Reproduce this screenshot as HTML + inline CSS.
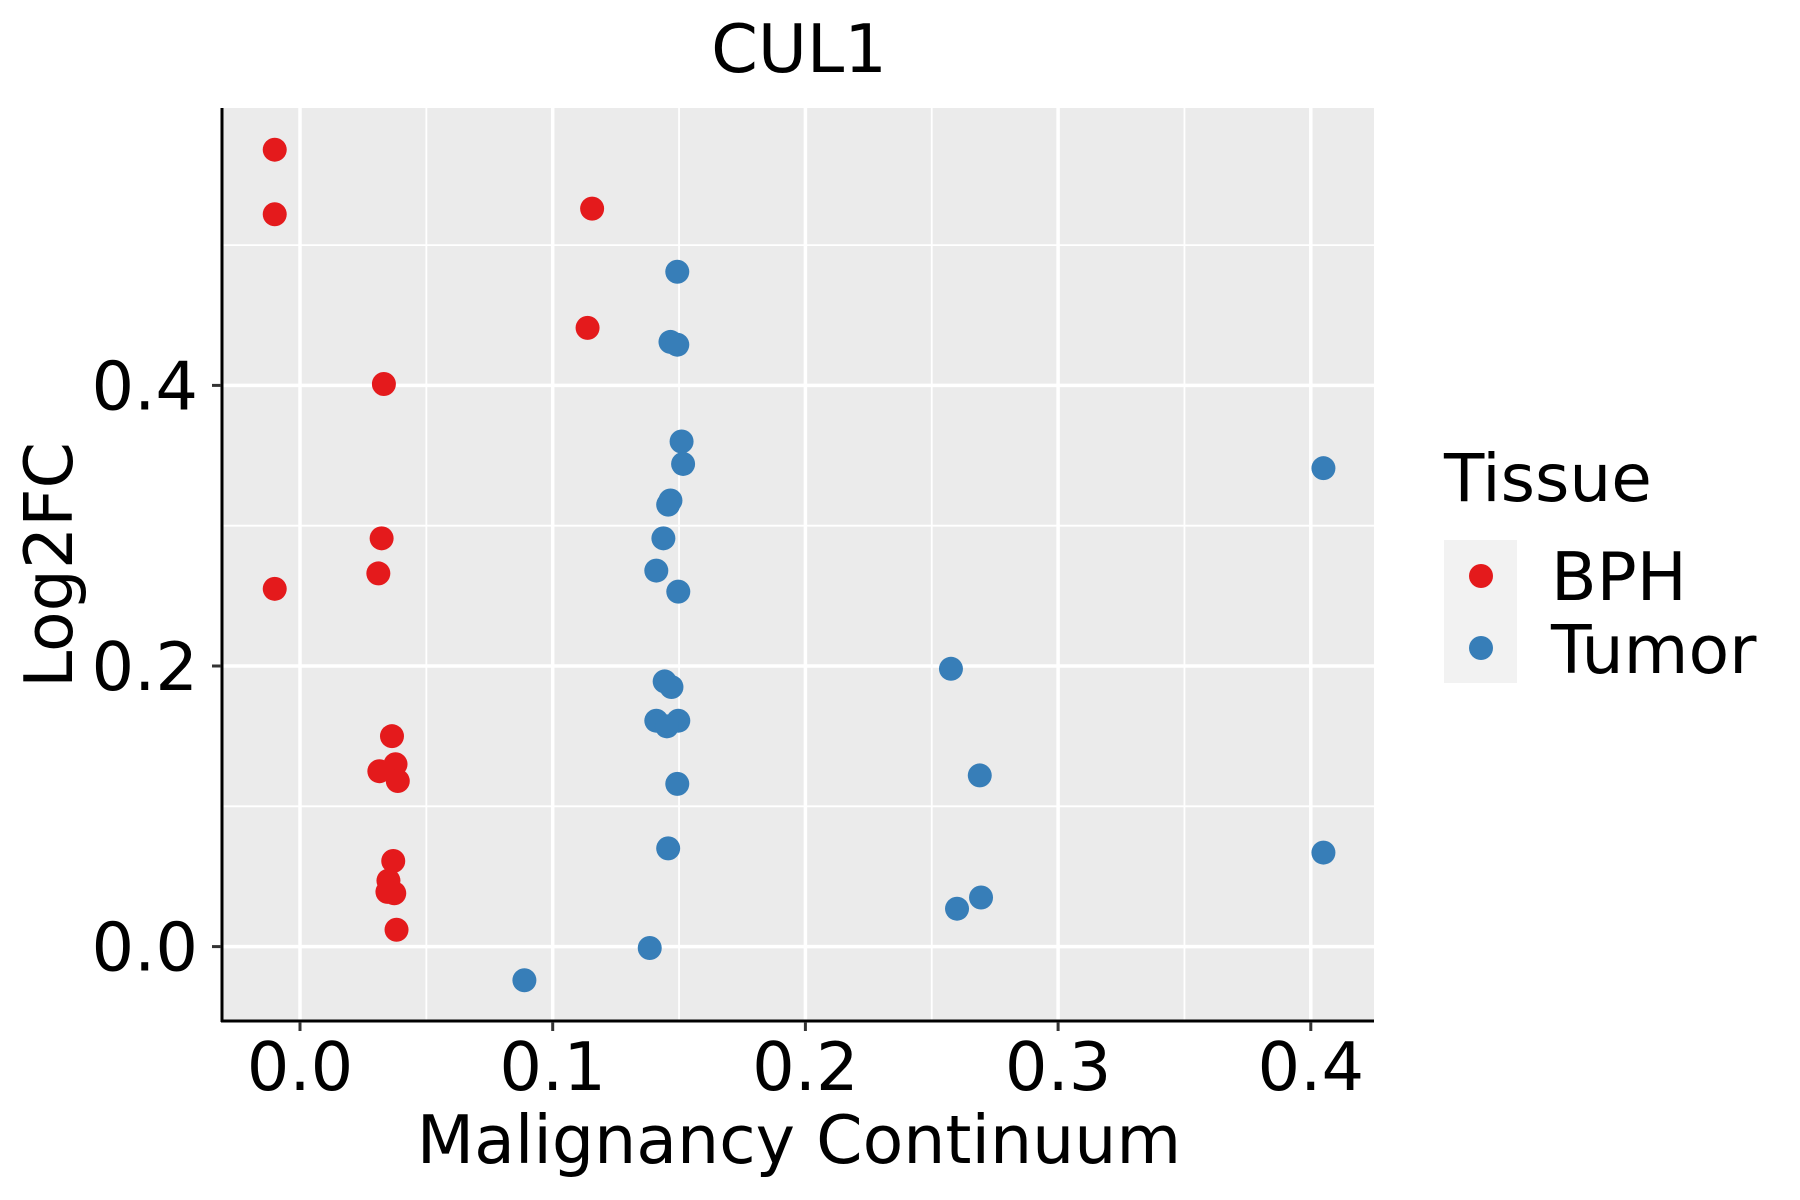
<!DOCTYPE html>
<html><head><meta charset="utf-8"><style>
html,body{margin:0;padding:0;background:#fff;}
svg{display:block;font-family:"DejaVu Sans","Liberation Sans",sans-serif;}
</style></head><body>
<svg id="chart" width="1800" height="1200" viewBox="0 0 1800 1200">
<rect x="0" y="0" width="1800" height="1200" fill="#fff"/>
<text x="799" y="72" font-size="67" text-anchor="middle">CUL1</text>
<rect x="222" y="108" width="1152" height="913" fill="#ebebeb"/>
<g id="grid"></g>
<g id="points"></g>
<line x1="222" y1="108" x2="222" y2="1022" stroke="#000" stroke-width="3"/>
<line x1="221" y1="1021" x2="1374" y2="1021" stroke="#000" stroke-width="3"/>
<g id="ticks"></g>
<text x="799" y="1163" font-size="66.5" text-anchor="middle">Malignancy Continuum</text>
<text transform="translate(72,565) rotate(-90)" font-size="66.5" text-anchor="middle">Log2FC</text>
<g>
<text x="1444" y="501" font-size="66">Tissue</text>
<rect x="1444" y="540" width="73" height="143" fill="#f2f2f2"/>
<circle cx="1481" cy="576" r="12" fill="#e41a1c"/>
<circle cx="1481" cy="648" r="12" fill="#377eb8"/>
<text x="1551" y="600" font-size="66.5">BPH</text>
<text x="1551" y="673" font-size="66.5">Tumor</text>
</g>
</svg>
<script>
const xTicks = [0.0, 0.1, 0.2, 0.3, 0.4];
const xTickLabels = ["0.0", "0.1", "0.2", "0.3", "0.4"];
const yTicks = [0.0, 0.2, 0.4];
const yTickLabels = ["0.0", "0.2", "0.4"];
const xMinor = [0.05, 0.15, 0.25, 0.35];
const yMinor = [0.1, 0.3, 0.5];
const bphX = [-0.010, -0.010, -0.010, 0.1156, 0.1138, 0.0332, 0.0323, 0.031, 0.0364, 0.0314, 0.0378, 0.0387, 0.0369, 0.035, 0.0346, 0.0373, 0.0382];
const bphY = [0.568, 0.522, 0.255, 0.526, 0.441, 0.401, 0.291, 0.266, 0.150, 0.125, 0.130, 0.118, 0.061, 0.047, 0.039, 0.038, 0.012];
const tumorX = [0.1493, 0.1466, 0.1493, 0.151, 0.1516, 0.405, 0.1466, 0.1457, 0.1438, 0.141, 0.1497, 0.2576, 0.1443, 0.147, 0.141, 0.1497, 0.1452, 0.269, 0.1493, 0.1457, 0.405, 0.2695, 0.26, 0.1384, 0.0888];
const tumorY = [0.481, 0.431, 0.429, 0.360, 0.344, 0.341, 0.318, 0.315, 0.291, 0.268, 0.253, 0.198, 0.189, 0.185, 0.161, 0.161, 0.157, 0.122, 0.116, 0.070, 0.067, 0.035, 0.027, -0.001, -0.024];

const NS = "http://www.w3.org/2000/svg";
function sx(v){ return 300 + v * 2527; }
function sy(v){ return 946.6 - v * 1403; }
const grid = document.getElementById('grid');
const ticks = document.getElementById('ticks');
const pts = document.getElementById('points');
function mk(tag, attrs, parent){
  const e = document.createElementNS(NS, tag);
  for (const k in attrs) e.setAttribute(k, attrs[k]);
  parent.appendChild(e);
  return e;
}
xMinor.forEach(v => {
  const l = mk('line', {x1: sx(v), x2: sx(v), y1: 108, y2: 1021, stroke: '#fff', 'stroke-width': 1.8}, grid);
  
  
});
yMinor.forEach(v => {
  const l = mk('line', {x1: 222, x2: 1374, y1: sy(v), y2: sy(v), stroke: '#fff', 'stroke-width': 1.8}, grid);
  
  
});
xTicks.forEach((v, i) => {
  const l = mk('line', {x1: sx(v), x2: sx(v), y1: 108, y2: 1021, stroke: '#fff', 'stroke-width': 3.5}, grid);
  
  
  const t = mk('line', {x1: sx(v), x2: sx(v), y1: 1022, y2: 1031, stroke: '#333', 'stroke-width': 3}, ticks);
  
  
  const tx = mk('text', {x: sx(v), y: 1090, 'font-size': 67, 'text-anchor': 'middle', fill: '#000'}, ticks);
  tx.textContent = xTickLabels[i];
  
  
});
yTicks.forEach((v, i) => {
  const l = mk('line', {x1: 222, x2: 1374, y1: sy(v), y2: sy(v), stroke: '#fff', 'stroke-width': 3.5}, grid);
  
  
  const t = mk('line', {x1: 212, x2: 221, y1: sy(v), y2: sy(v), stroke: '#333', 'stroke-width': 3}, ticks);
  
  
  const tx = mk('text', {x: 198, y: sy(v) + 24, 'font-size': 67, 'text-anchor': 'end', fill: '#000'}, ticks);
  tx.textContent = yTickLabels[i];
  
  
});
bphX.forEach((v, i) => {
  const c = mk('circle', {cx: sx(v), cy: sy(bphY[i]), r: 12, fill: '#e41a1c'}, pts);
  
  
});
tumorX.forEach((v, i) => {
  const c = mk('circle', {cx: sx(v), cy: sy(tumorY[i]), r: 12, fill: '#377eb8'}, pts);
  
  
});
</script>
</body></html>
